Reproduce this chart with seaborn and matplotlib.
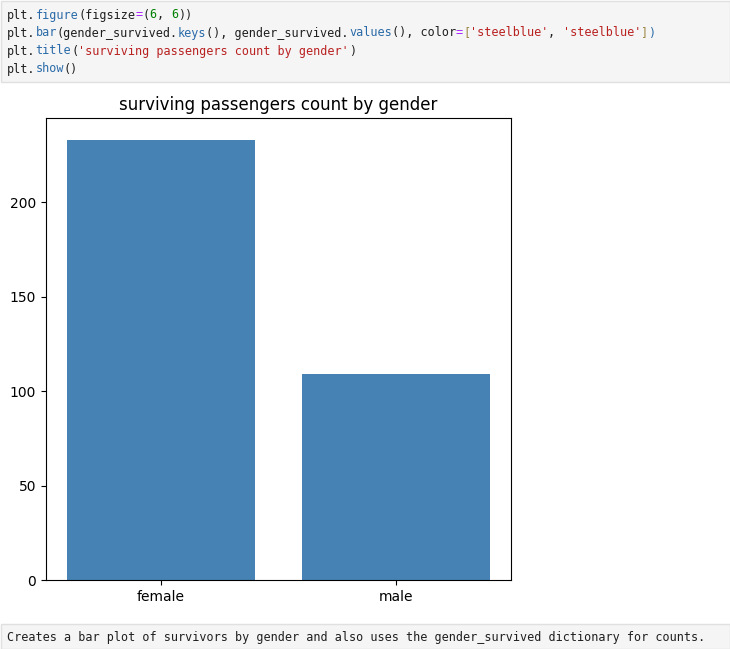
import matplotlib
matplotlib.use("Agg")
import matplotlib.pyplot as plt
from matplotlib.patches import Rectangle
from matplotlib.text import Annotation
import seaborn as sns

# ---- data ----
genders = ["female", "male"]
survived = [233, 109]
bar_color = "steelblue"
title_text = "surviving passengers count by gender"
caption_text = "Creates a bar plot of survivors by gender and also uses the gender_survived dictionary for counts."

# ---- code cell (token, color) ----
BLK = "#1f1f1f"
BLU = "#2a6aa8"
MAG = "#aa22ff"
GRN = "#008000"
RED = "#ba2121"
GLD = "#a08a4a"
code_lines = [
    [("plt.", BLK), ("figure", BLU), ("(figsize", BLK), ("=", MAG), ("(", BLK), ("6", GRN), (", ", BLK), ("6", GRN), ("))", BLK)],
    [("plt.", BLK), ("bar", BLU), ("(gender_survived.", BLK), ("keys", BLU), ("(), gender_survived.", BLK),
     ("values", BLU), ("(), color", BLK), ("=", MAG), ("[", GLD), ("'steelblue'", RED), (", ", BLK),
     ("'steelblue'", RED), ("]", GLD), (")", BLU)],
    [("plt.", BLK), ("title", BLU), ("(", BLK), ("'surviving passengers count by gender'", RED), (")", BLK)],
    [("plt.", BLK), ("show", BLU), ("()", BLK)],
]

W, H = 730, 649
fig = plt.figure(figsize=(W / 100, H / 100), dpi=100)
fig.patch.set_facecolor("white")


def fx(px):
    return px / W


def fy(py):
    return 1 - py / H


# code cell box
fig.patches.append(Rectangle((fx(0.5), fy(82)), fx(729.5), (82 - 1) / H, transform=fig.transFigure,
                             facecolor="#f5f5f5", edgecolor="#e0e0e0", lw=1, zorder=0))
# caption box
fig.patches.append(Rectangle((fx(0.5), fy(649)), fx(729.5), (649 - 624) / H, transform=fig.transFigure,
                             facecolor="#f5f5f5", edgecolor="#e0e0e0", lw=1, zorder=0))

mono = dict(family="DejaVu Sans Mono", size=8.5)


def chain_line(tokens, ypx, xpx=7):
    first_tok, first_col = tokens[0]
    prev = fig.text(fx(xpx), fy(ypx), first_tok, color=first_col, ha="left", va="center", **mono)
    for tok, col in tokens[1:]:
        prev = fig.add_artist(Annotation(tok, xy=(1, 0), xycoords=prev, ha="left", va="bottom",
                                         color=col, **mono))
    return prev


for i, toks in enumerate(code_lines):
    chain_line(toks, 15 + 18 * i)

fig.text(fx(7), fy(638), caption_text, color=BLK, ha="left", va="center", **mono)

# ---- chart ----
ax = fig.add_axes([fx(46), fy(580), (511 - 46) / W, (580 - 118) / H])
sns.barplot(x=genders, y=survived, color=bar_color, saturation=1, width=0.8, ax=ax)
ax.set_xlim(-0.49, 1.49)
ax.set_ylim(0, max(survived) * 1.05)
ax.set_yticks([0, 50, 100, 150, 200])
ax.set_title(title_text, fontsize=12, color="black")
ax.set_xlabel("")
ax.set_ylabel("")
ax.tick_params(colors="black", labelsize=10)
for s in ax.spines.values():
    s.set_color("black")
    s.set_linewidth(0.8)
    s.set_visible(True)

fig.savefig("out.png", dpi=100, facecolor="white")
